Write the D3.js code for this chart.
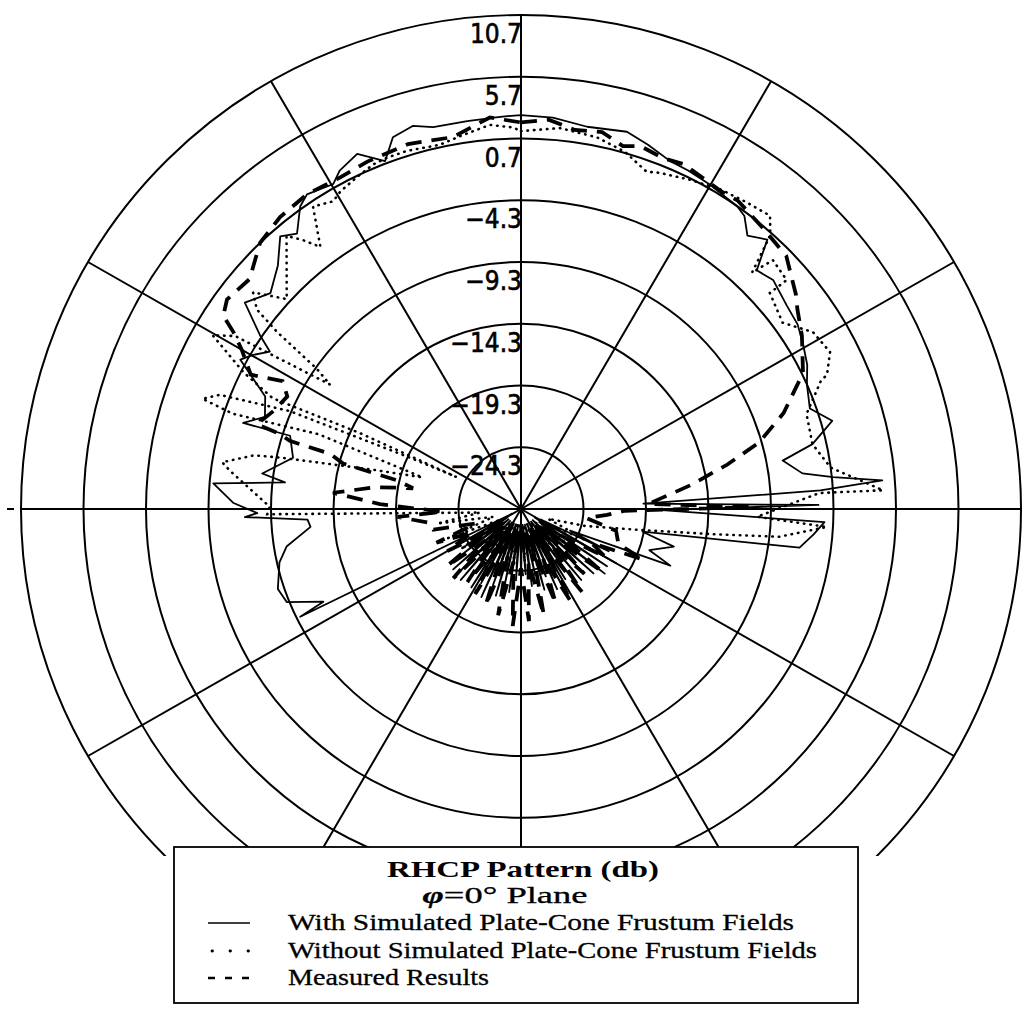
<!DOCTYPE html>
<html><head><meta charset="utf-8">
<script src="https://cdn.jsdelivr.net/npm/d3@7"></script>
<style>body{margin:0;background:#fff}svg{display:block}</style>
</head><body>
<svg id="c" width="1026" height="1013"></svg>
<script>
// ---- data ----
const ringLevels = [-24.3, -19.3, -14.3, -9.3, -4.3, 0.7, 5.7, 10.7];
const ringLabels = ["\u221224.3", "\u221219.3", "\u221214.3", "\u22129.3", "\u22124.3", "0.7", "5.7", "10.7"];
const spokeAngles = [0, 30, 60, 90, 120, 150, 180, 210, 240, 270, 300, 330];

const withAngles = [0,4.6,9.7,15.5,19,22.9,26,29.9,35.2,37,39.3,42.1,44.3,47.4,52.2,56,59.5,63,66.2,70.6,74,77.3,79.4,82.7,84.1,85.4,86.4,87.5,89.2,90.5,92.5,95,98,100.7,104,108,111,114,
116,118,120,122,124,126,128,130,132,134,136,138,140,142,144,146,148,150,152,154,156,158,160,162,164,166,168,170,172,174,176,178,180,182,184,186,188,190,192,194,196,198,200,202,204,206,208,210,212,214,216,218,220,222,224,226,228,230,232,234,236,238,240,242,
243.7,244.6,248.1,251.6,257.4,260.8,265.1,267.1,268.3,269.1,271.2,274.8,276.5,277.9,282.8,287.8,287.4,290,294,298.3,300.2,302.4,304,307.1,311.1,315.4,318.9,321.2,324.2,326.1,330.3,332.1,335.5,338.9,341.2,344.4,347.2,352.2,357,360];
const withDb = [2.6,2.5,2.1,2.4,1.9,1.3,1.2,1.0,0.7,0.4,-0.7,0.1,-2.3,-1.9,-2.4,-2.6,-3.1,-3.6,-4.3,-4.8,-3.4,-5.4,-8.0,-6.6,-4.2,-0.3,-5.3,-19.5,-5.5,-18,-5.0,-5.8,-6.8,-19.4,-16.7,-18.5,-16.5,-25,
-21.5,-27.5,-20.5,-28,-21,-27.5,-20.8,-27,-21.5,-28,-22.5,-27.5,-21.8,-28,-22,-27.2,-22.6,-28,-21.5,-27.5,-22.2,-28,-23.5,-27,-22.5,-28,-23.8,-27.3,-23,-28,-24,-27.5,-22.8,-28,-23.5,-27.4,-22.5,-28,-23,-27.5,-22,-28,-22.8,-27,-21.5,-28,-22.5,-27.2,-21.8,-28,-22.5,-27,-21.8,-28,-22.3,-27.3,-22,-28,-23,-27.5,-24,-28,-24.5,-28.5,
-9.6,-11.8,-9.1,-8.8,-9.5,-10.3,-12.4,-12.2,-7.2,-8.2,-6.3,-4.6,-10.3,-8.4,-10.6,-9.9,-6.0,-7.5,-6.9,-3.8,-4.5,-5.5,-4.1,-1.6,-2.7,-1.6,0,-0.7,0.9,1.4,1.0,1.7,2.3,0.9,2.5,2.9,2.4,2.4,2.5,2.6];

const withoutAngles = [0,5.8,11.4,16,20.2,22.2,27,31.6,36,40,42,44,45,48.9,48.7,54.2,58.5,62.8,66,66.7,71.4,77.3,82.3,87,86.9,91.9,93.4,96.2,97.5,100.3,
105,110,116,122,128,134,140,146,152,158,164,170,176,182,188,194,200,206,212,218,224,230,236,242,248,254,260,265,
268.8,270.5,277.6,279,281.5,282.2,285,288,290.5,288.5,289.3,291,293.2,295,296.6,295.5,294.3,296.5,299.7,301.5,303.4,304.8,306.3,307.4,309.3,312.2,319.7,321.3,322.9,325.8,328.9,330.7,333.9,337,339.4,342.5,347.6,351,355.4,358.8,360];
const withoutDb = [1.3,1.7,1.4,0.8,-0.2,0.1,0.6,1.1,1.4,1.7,0.5,-2.7,-0.8,-1.1,-2.8,-3.5,-1.9,-1.5,-2.5,-3.2,-5.2,-5.4,-4.3,-0.3,-5.4,-10.4,-4.8,-8.5,-13.6,-19.9,
-24,-27,-23.5,-27.5,-24,-27.8,-24.5,-28,-25,-28,-24.5,-28,-25,-28.2,-24.8,-28,-25,-28,-24.5,-27.8,-24,-27.5,-23.5,-27.5,-23,-27,-22.5,-26,
-9.0,-9.2,-5.8,-5.1,-7.5,-9.6,-17,-21,-12,-5,-2.3,-3.5,-9.2,-19.3,-23.5,-15,-7.5,-4.5,-0.9,-2.5,-11.0,-9.4,-5.1,-2.7,-1.6,-4.0,-0.3,-1.4,-2.7,0.3,-0.2,0.2,0.6,1.0,1.1,1.1,0.9,1.3,1.9,1.6,1.3];

const measuredAngles = [0,4,8,12,15.5,18,21.8,25,28.5,32,34.8,40,46,51.8,53.8,58,64,69.7,74.2,77.7,81.9,87.7,89.5,91,94,98,103,110,112.7,116,
120,124,128,132,136,140,144,148,152,156,160,164,168,172,176,180,184,188,192,196,200,204,208,212,216,220,224,228,232,236,240,244,248,252,
256.6,261.3,266.3,268,272,275,278.7,281,283.2,284.5,286.3,286.6,287.5,288,292,296,298.5,296.7,300,301.9,303.3,305.8,310.6,315.9,320.8,326.1,331.7,336.4,343,349.7,355.5,360];
const measuredDb = [2.0,2.3,1.7,1.9,1.2,1.6,1.3,1.5,1.2,1.0,1.1,0.6,0.2,-1.3,-1.9,-2.8,-4.2,-6.9,-9.5,-12.4,-15.6,-19.1,-11,-21,-22.4,-24,-21.5,-21,-18.7,-23,
-21.5,-25.5,-21,-26,-22,-25.5,-21,-26,-20.8,-25,-21.2,-26,-20.5,-25,-20.2,-24.5,-19.8,-25,-20.5,-25.5,-21,-26,-21.5,-25.5,-22,-26,-21.5,-25.5,-21.8,-26,-22.5,-25,-22,-25.5,
-22.1,-21.9,-19.4,-23,-18,-14.2,-17.6,-20.5,-19.1,-14.6,-13.4,-10,-9.1,-7.1,-8,-8.5,-7.6,-5.1,-3.5,-2.2,-0.8,-0.3,-0.7,0.7,1.2,1.4,1.2,1.4,1.6,1.3,2.5,2.0];

const legendTitle = "RHCP Pattern (db)";
const legendSub = ["\u03c6", "=0\u00b0 Plane"];
const seriesNames = ["With Simulated Plate-Cone Frustum Fields", "Without Simulated Plate-Cone Frustum Fields", "Measured Results"];

// ---- drawing ----
const svg = d3.select("#c");
const cx = 521, cy = 509, R = 500, ys = 0.988;
const r = d3.scaleLinear().domain([-29.3, 10.7]).range([0, R]);

svg.append("defs").append("clipPath").attr("id", "clip")
  .append("rect").attr("x", 0).attr("y", 0).attr("width", 1026).attr("height", 856);

const outer = svg.append("g").attr("clip-path", "url(#clip)");
const g = outer.append("g").attr("transform", `translate(${cx},${cy}) scale(1,${ys})`);

g.selectAll("circle.ring").data(ringLevels).join("circle")
  .attr("class", "ring").attr("r", d => r(d))
  .attr("fill", "none").attr("stroke", "#000").attr("stroke-width", 2);

g.selectAll("line.spoke").data(spokeAngles).join("line")
  .attr("class", "spoke")
  .attr("x1", 0).attr("y1", 0)
  .attr("x2", d => R * Math.sin(d * Math.PI / 180))
  .attr("y2", d => -R * Math.cos(d * Math.PI / 180))
  .attr("stroke", "#000").attr("stroke-width", 2);

// small tick beyond the left edge of the horizontal axis
outer.append("line").attr("x1", 7).attr("x2", 14).attr("y1", cy).attr("y2", cy)
  .attr("stroke", "#000").attr("stroke-width", 2);

const radial = d3.lineRadial()
  .angle(d => d[0] * Math.PI / 180)
  .radius(d => r(Math.max(-29.3, d[1])));

g.append("path").datum(d3.zip(withoutAngles, withoutDb))
  .attr("d", radial).attr("fill", "none").attr("stroke", "#000")
  .attr("stroke-width", 2.6).attr("stroke-linecap", "round").attr("stroke-dasharray", "0.5,6");

g.append("path").datum(d3.zip(measuredAngles, measuredDb))
  .attr("d", radial).attr("fill", "none").attr("stroke", "#000")
  .attr("stroke-width", 3.8).attr("stroke-dasharray", "16,10");

g.append("path").datum(d3.zip(withAngles, withDb))
  .attr("d", radial).attr("fill", "none").attr("stroke", "#000")
  .attr("stroke-width", 1.8).attr("stroke-linejoin", "round");

// ring labels
svg.selectAll("text.rl").data(ringLevels).join("text")
  .attr("class", "rl")
  .attr("x", cx + 1)
  .attr("y", d => cy - r(d) * ys + 28)
  .attr("text-anchor", "end")
  .attr("font-family", "'Liberation Sans Narrow','DejaVu Sans Condensed',sans-serif")
  .attr("font-size", 26)
  .attr("fill", "#000").attr("stroke", "#000").attr("stroke-width", 0.6)
  .text((d, i) => ringLabels[i]);

// legend
const L = { x: 174, y: 847, w: 684, h: 156 };
const lg = svg.append("g");
lg.append("rect").attr("x", L.x).attr("y", L.y).attr("width", L.w).attr("height", L.h)
  .attr("fill", "#fff").attr("stroke", "#000").attr("stroke-width", 1.8);

const serif = "'Liberation Serif','DejaVu Serif',serif";
lg.append("text").attr("x", 523).attr("y", 877).attr("text-anchor", "middle")
  .attr("font-family", serif).attr("font-weight", "bold").attr("font-size", 24)
  .attr("textLength", 272).attr("lengthAdjust", "spacingAndGlyphs")
  .text(legendTitle);

const sub = lg.append("text").attr("x", 505).attr("y", 903).attr("text-anchor", "middle")
  .attr("font-family", serif).attr("font-size", 23)
  .attr("textLength", 165).attr("lengthAdjust", "spacingAndGlyphs")
  .attr("stroke", "#000").attr("stroke-width", 0.3);
sub.append("tspan").attr("font-style", "italic").attr("font-weight", "bold").text(legendSub[0]);
sub.append("tspan").text(legendSub[1]);

const rowY = [930, 958, 985];
const rowW = [506, 529, 201];
lg.selectAll("text.ser").data(seriesNames).join("text")
  .attr("class", "ser")
  .attr("x", 288).attr("y", (d, i) => rowY[i])
  .attr("font-family", serif).attr("font-size", 24)
  .attr("stroke", "#000").attr("stroke-width", 0.3)
  .attr("textLength", (d, i) => rowW[i]).attr("lengthAdjust", "spacingAndGlyphs")
  .text(d => d);

const symStyles = [
  { x1: 208, w: 1.6, dash: null, cap: "butt" },
  { x1: 212, w: 2.8, dash: "0.5,17.5", cap: "round" },
  { x1: 208, w: 2.4, dash: "7,10", cap: "butt" }
];
lg.selectAll("line.sym").data(symStyles).join("line")
  .attr("class", "sym")
  .attr("x1", d => d.x1).attr("x2", 250)
  .attr("y1", (d, i) => rowY[i] - 7).attr("y2", (d, i) => rowY[i] - 7)
  .attr("stroke", "#000").attr("stroke-width", d => d.w)
  .attr("stroke-linecap", d => d.cap)
  .attr("stroke-dasharray", d => d.dash);
</script>
</body></html>
